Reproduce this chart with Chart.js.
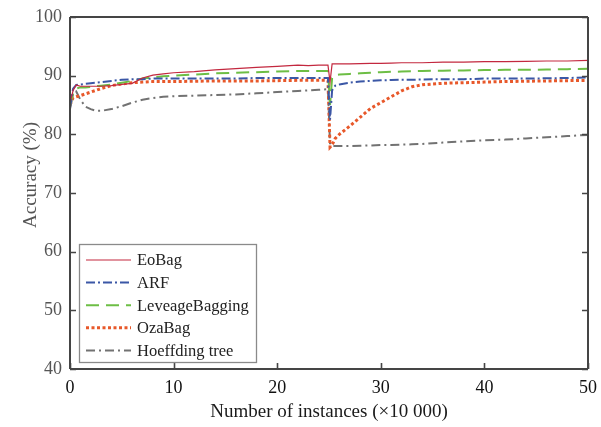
<!DOCTYPE html>
<html>
<head>
<meta charset="utf-8">
<script src="https://cdn.jsdelivr.net/npm/chart.js@4.4.1/dist/chart.umd.min.js"></script>
<style>
html,body{margin:0;padding:0;background:#fff;}
#wrap{width:601px;height:427px;}
</style>
</head>
<body>
<div id="wrap"><canvas id="c" width="601" height="427"></canvas></div>
<script>
const xs = [0,0.3,0.6,1,1.5,2,2.5,3,4,5,6,7,8,9,10,12,14,16,18,20,22,23,24,24.9,25.1,25.3,25.6,26,27,28,29,30,31,32,33,34,36,38,40,42,44,46,48,50];
const eoBag = [85.3,87.5,88.4,88.2,88.2,88.2,88.2,88.2,88.3,88.5,88.7,89.6,90.1,90.3,90.5,90.7,91.0,91.2,91.4,91.6,91.8,91.7,91.8,91.8,88.9,92.0,92.0,92.0,92.0,92.05,92.1,92.1,92.15,92.2,92.2,92.2,92.3,92.3,92.4,92.4,92.45,92.5,92.5,92.6];
const arf = [84.5,87.8,88.4,88.5,88.6,88.7,88.8,88.9,89.1,89.3,89.4,89.4,89.5,89.5,89.5,89.5,89.5,89.5,89.6,89.6,89.6,89.6,89.6,89.6,82.5,87.5,88.3,88.5,88.8,89.0,89.1,89.2,89.25,89.3,89.3,89.35,89.4,89.4,89.5,89.5,89.5,89.55,89.6,89.7];
const leveage = [84.8,87.0,87.8,88.0,88.0,88.1,88.2,88.3,88.5,88.8,89.1,89.5,89.7,89.9,90.0,90.2,90.4,90.5,90.6,90.7,90.8,90.8,90.8,90.8,85.0,89.6,90.1,90.2,90.3,90.4,90.5,90.6,90.65,90.7,90.75,90.8,90.85,90.9,90.95,91.0,91.0,91.05,91.1,91.2];
const ozaBag = [85.0,86.2,86.4,86.6,86.9,87.2,87.5,87.8,88.3,88.6,88.8,88.9,89.0,89.0,89.0,89.05,89.1,89.1,89.1,89.15,89.2,89.2,89.2,89.2,77.8,78.2,79.3,80.0,81.4,82.9,84.4,85.4,86.4,87.4,88.1,88.45,88.7,88.8,88.9,89.0,89.05,89.1,89.15,89.2];
const hoeffding = [84.3,87.0,87.3,85.9,84.7,84.3,84.0,84.0,84.3,84.8,85.4,85.9,86.2,86.4,86.5,86.6,86.7,86.8,87.0,87.2,87.4,87.5,87.6,87.7,78.3,78.0,78.0,78.0,78.0,78.05,78.1,78.2,78.2,78.25,78.3,78.35,78.6,78.8,79.0,79.1,79.3,79.5,79.7,79.9];
const seriesNames = ['EoBag','ARF','LeveageBagging','OzaBag','Hoeffding tree'];
const xTicks = [0,10,20,30,40,50];
const yTicks = [40,50,60,70,80,90,100];
const xTitle = 'Number of instances (\u00d710 000)';
const yTitle = 'Accuracy (%)';

const styles = [
  {color:'#C3283F', width:1.2, dash:[]},
  {color:'#3B57A6', width:2, dash:[9,3,2,3]},
  {color:'#6DBE45', width:2, dash:[13,7]},
  {color:'#E8582A', width:3, dash:[3,2.5]},
  {color:'#727272', width:2, dash:[9,4,2,4]}
];
const allSeries = [eoBag, arf, leveage, ozaBag, hoeffding];
const datasets = allSeries.map((vals, i) => ({
  label: seriesNames[i],
  data: vals.map((v, j) => ({x: xs[j], y: v})),
  borderColor: styles[i].color,
  borderWidth: styles[i].width,
  borderDash: styles[i].dash,
  pointRadius: 0,
  tension: 0,
  fill: false
}));

const SERIF = '"Liberation Serif", "DejaVu Serif", serif';
const AXIS = '#454545';

const framePlugin = {
  id: 'frame',
  afterDraw(chart) {
    const ctx = chart.ctx;
    const a = chart.chartArea;
    const xs_ = chart.scales.x, ys_ = chart.scales.y;
    ctx.save();
    ctx.strokeStyle = AXIS;
    ctx.lineWidth = 2;
    ctx.setLineDash([]);
    ctx.beginPath();
    ctx.moveTo(a.left, a.top); ctx.lineTo(a.right, a.top);
    ctx.moveTo(a.right, a.top); ctx.lineTo(a.right, a.bottom);
    ctx.moveTo(a.left, a.top); ctx.lineTo(a.left, a.bottom);
    ctx.moveTo(a.left, a.bottom); ctx.lineTo(a.right, a.bottom);
    ctx.stroke();
    ctx.lineWidth = 1.6;
    ctx.beginPath();
    yTicks.forEach(v => {
      const y = Math.round(ys_.getPixelForValue(v)) + 0.5;
      ctx.moveTo(a.left, y); ctx.lineTo(a.left + 6, y);
      ctx.moveTo(a.right, y); ctx.lineTo(a.right - 6, y);
    });
    xTicks.forEach(v => {
      const x = Math.round(xs_.getPixelForValue(v)) + 0.5;
      ctx.moveTo(x, a.bottom); ctx.lineTo(x, a.bottom - 6);
    });
    ctx.stroke();

    // titles
    ctx.fillStyle = '#1a1a1a';
    ctx.font = '19px ' + SERIF;
    ctx.textAlign = 'center';
    ctx.textBaseline = 'middle';
    ctx.fillText(xTitle, (a.left + a.right) / 2, 412);
    ctx.save();
    ctx.translate(31, 175);
    ctx.rotate(-Math.PI / 2);
    ctx.fillStyle = '#555';
    ctx.fillText(yTitle, 0, 0);
    ctx.restore();

    // legend
    const lx = 79.5, ly = 244.5, lw = 177, lh = 118;
    ctx.fillStyle = '#fff';
    ctx.fillRect(lx, ly, lw, lh);
    ctx.strokeStyle = '#8a8a8a';
    ctx.lineWidth = 1.3;
    ctx.strokeRect(lx, ly, lw, lh);
    const rowH = 22.6;
    chart.data.datasets.forEach((ds, i) => {
      const cy = 260 + i * rowH;
      ctx.save();
      ctx.strokeStyle = ds.borderColor;
      ctx.lineWidth = ds.borderWidth;
      ctx.setLineDash(ds.borderDash);
      ctx.beginPath();
      ctx.moveTo(86, cy); ctx.lineTo(131, cy);
      ctx.stroke();
      ctx.restore();
      ctx.fillStyle = '#222';
      ctx.font = '16.5px ' + SERIF;
      ctx.textAlign = 'left';
      ctx.textBaseline = 'middle';
      ctx.fillText(ds.label, 137, cy + 1);
    });
    ctx.restore();
  }
};

new Chart(document.getElementById('c'), {
  type: 'line',
  data: { datasets },
  options: {
    responsive: false,
    animation: false,
    devicePixelRatio: 1,
    layout: { padding: { top: 17, right: 13, left: 0, bottom: 0 } },
    plugins: { legend: { display: false }, tooltip: { enabled: false } },
    scales: {
      x: {
        type: 'linear', min: 0, max: 50,
        afterFit(s) { s.height = 58; s.paddingLeft = 0; s.paddingRight = 0; },
        afterBuildTicks(s) { s.ticks = xTicks.map(v => ({value: v})); },
        grid: { display: false, drawTicks: false },
        border: { display: false },
        ticks: { color: '#111', font: { family: SERIF, size: 18 }, padding: 8, maxRotation: 0 }
      },
      y: {
        type: 'linear', min: 40, max: 100,
        afterFit(s) { s.width = 70; s.paddingTop = 0; s.paddingBottom = 0; },
        afterBuildTicks(s) { s.ticks = yTicks.map(v => ({value: v})); },
        grid: { display: false, drawTicks: false },
        border: { display: false },
        ticks: { color: '#555', font: { family: SERIF, size: 18 }, padding: 8 }
      }
    }
  },
  plugins: [framePlugin]
});
</script>
</body>
</html>
